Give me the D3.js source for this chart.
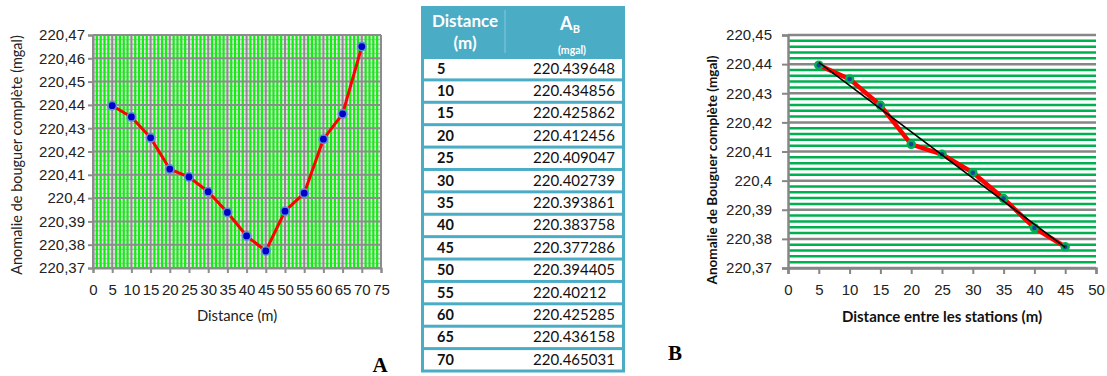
<!DOCTYPE html>
<html>
<head>
<meta charset="utf-8">
<script src="https://cdn.jsdelivr.net/npm/d3@7"></script>
<style>
  body { margin: 0; background: #fff; }
  svg { display: block; font-family: Lato, "Open Sans", sans-serif; }
</style>
</head>
<body>
<svg id="fig" width="1107" height="376"></svg>
<script>
// station distances (m) and complete Bouguer anomaly (mgal)
const distances = [5, 10, 15, 20, 25, 30, 35, 40, 45, 50, 55, 60, 65, 70];
const anomalies = [220.439648, 220.434856, 220.425862, 220.412456, 220.409047,
  220.402739, 220.393861, 220.383758, 220.377286, 220.394405, 220.40212,
  220.425285, 220.436158, 220.465031];
const anomalyText = ["220.439648", "220.434856", "220.425862", "220.412456", "220.409047",
  "220.402739", "220.393861", "220.383758", "220.377286", "220.394405", "220.40212",
  "220.425285", "220.436158", "220.465031"];
// panel B only uses the descending part of the profile
const nB = 9;

const fr = d3.formatLocale({ decimal: ",", thousands: " ", grouping: [3], currency: ["", ""] });
const fmt = fr.format(".2~f");

const svg = d3.select("#fig");
const pts = distances.map((d, i) => ({ x: d, y: anomalies[i] }));

// ---------------- Panel A ----------------
const xA = d3.scaleLinear().domain([0, 75]).range([93, 381]);
const yA = d3.scaleLinear().domain([220.37, 220.47]).range([268, 35]);

const gA = svg.append("g");
gA.append("rect")
  .attr("x", xA(0)).attr("y", yA(220.47))
  .attr("width", xA(75) - xA(0)).attr("height", yA(220.37) - yA(220.47))
  .attr("fill", "#e4e4e4");

// minor horizontal
gA.selectAll(".hmin").data(yA.ticks(50)).join("line")
  .attr("x1", xA(0)).attr("x2", xA(75))
  .attr("y1", d => yA(d)).attr("y2", d => yA(d))
  .attr("stroke", "#b0b0b0").attr("stroke-width", 1);
// minor vertical (green)
gA.selectAll(".vmin").data(xA.ticks(75).filter(d => d % 5 !== 0)).join("line")
  .attr("x1", d => xA(d)).attr("x2", d => xA(d))
  .attr("y1", yA(220.47)).attr("y2", yA(220.37))
  .attr("stroke", "#11ee11").attr("stroke-width", 2.2);
// major
gA.selectAll(".hmaj").data(yA.ticks(10)).join("line")
  .attr("x1", xA(0)).attr("x2", xA(75))
  .attr("y1", d => yA(d)).attr("y2", d => yA(d))
  .attr("stroke", "#8c8c8c").attr("stroke-width", 2);
gA.selectAll(".vmaj").data(xA.ticks(15)).join("line")
  .attr("x1", d => xA(d)).attr("x2", d => xA(d))
  .attr("y1", yA(220.47)).attr("y2", yA(220.37))
  .attr("stroke", "#8c8c8c").attr("stroke-width", 2);

const axA = gA.append("g").attr("transform", `translate(${xA(0)},0)`)
  .call(d3.axisLeft(yA).ticks(10).tickFormat(fmt).tickSize(5).tickPadding(3));
const axAx = gA.append("g").attr("transform", `translate(0,${yA(220.37)})`)
  .call(d3.axisBottom(xA).ticks(15).tickSize(5).tickPadding(11));
[axA, axAx].forEach(a => {
  a.select(".domain").attr("stroke", "#8c8c8c").attr("stroke-width", 2);
  a.selectAll(".tick line").attr("stroke", "#8c8c8c").attr("stroke-width", 2);
  a.selectAll("text").attr("font-size", 15).attr("fill", "#222");
});

gA.append("path").datum(pts)
  .attr("fill", "none").attr("stroke", "#ff0000").attr("stroke-width", 3)
  .attr("d", d3.line().x(d => xA(d.x)).y(d => yA(d.y)));
gA.selectAll(".mk").data(pts).join("circle")
  .attr("cx", d => xA(d.x)).attr("cy", d => yA(d.y)).attr("r", 4.2)
  .attr("fill", "#0000c8").attr("stroke", "#5b8fd6").attr("stroke-width", 1.6);

gA.append("text").attr("transform", "translate(22,155) rotate(-90)")
  .attr("text-anchor", "middle").attr("font-size", 14.5).attr("fill", "#222")
  .text("Anomalie de bouguer complète (mgal)");
gA.append("text").attr("x", 237).attr("y", 321)
  .attr("text-anchor", "middle").attr("font-size", 14.8).attr("fill", "#222")
  .text("Distance (m)");
gA.append("text").attr("x", 380).attr("y", 372)
  .attr("text-anchor", "middle").attr("font-size", 21).attr("font-weight", "bold")
  .attr("font-family", "Liberation Serif, serif").text("A");

// ---------------- Table ----------------
const tx0 = 421, tx1 = 625, colSep = 505;
const rowY = d3.scaleLinear().domain([0, distances.length]).range([57, 370.5]);
const gT = svg.append("g");
gT.append("rect").attr("x", tx0).attr("y", 6).attr("width", tx1 - tx0).attr("height", rowY(distances.length) + 2 - 6)
  .attr("fill", "#4bacc6");
gT.append("line").attr("x1", colSep).attr("x2", colSep).attr("y1", 10).attr("y2", 53)
  .attr("stroke", "#86c9db").attr("stroke-width", 1);
gT.append("text").attr("x", 465).attr("y", 27).attr("text-anchor", "middle")
  .attr("font-size", 17).attr("font-weight", "bold").attr("fill", "#fff").text("Distance");
gT.append("text").attr("x", 465).attr("y", 49).attr("text-anchor", "middle")
  .attr("font-size", 17).attr("font-weight", "bold").attr("fill", "#fff").text("(m)");
const ab = gT.append("text").attr("x", 570).attr("y", 30).attr("text-anchor", "middle")
  .attr("font-size", 18).attr("font-weight", "bold").attr("fill", "#fff");
ab.append("tspan").text("A");
ab.append("tspan").attr("font-size", 11).attr("dy", 3).text("B");
gT.append("text").attr("x", 572).attr("y", 54).attr("text-anchor", "middle")
  .attr("font-size", 10.5).attr("font-weight", "bold").attr("fill", "#fff").text("(mgal)");

const rows = gT.selectAll(".row").data(distances).join("g");
rows.append("rect")
  .attr("x", tx0 + 3).attr("width", tx1 - tx0 - 6)
  .attr("y", (d, i) => rowY(i) + 2).attr("height", (d, i) => rowY(i + 1) - rowY(i) - 3)
  .attr("fill", "#fff");
rows.append("text")
  .attr("x", 437).attr("y", (d, i) => (rowY(i) + rowY(i + 1)) / 2 + 5.5)
  .attr("font-size", 14.5).attr("font-weight", "bold").attr("fill", "#111").text(d => d);
rows.append("text")
  .attr("x", 533).attr("y", (d, i) => (rowY(i) + rowY(i + 1)) / 2 + 5.5)
  .attr("font-size", 15).attr("fill", "#111").text((d, i) => anomalyText[i]);

// ---------------- Panel B ----------------
const ptsB = pts.slice(0, nB);
const xB = d3.scaleLinear().domain([0, 50]).range([788, 1096]);
const yB = d3.scaleLinear().domain([220.37, 220.45]).range([268, 35]);
const gB = svg.append("g");

gB.selectAll(".hmin").data(yB.ticks(40).filter(d => Math.abs(d * 100 - Math.round(d * 100)) > 1e-6)).join("line")
  .attr("x1", xB(0)).attr("x2", xB(50))
  .attr("y1", d => yB(d)).attr("y2", d => yB(d))
  .attr("stroke", "#00b050").attr("stroke-width", 2.5);
gB.selectAll(".hmaj").data(yB.ticks(8)).join("line")
  .attr("x1", xB(0)).attr("x2", xB(50))
  .attr("y1", d => yB(d)).attr("y2", d => yB(d))
  .attr("stroke", "#868686").attr("stroke-width", 2.5);

const axB = gB.append("g").attr("transform", `translate(${xB(0)},0)`)
  .call(d3.axisLeft(yB).ticks(8).tickFormat(fmt).tickSize(6).tickPadding(10));
const axBx = gB.append("g").attr("transform", `translate(0,${yB(220.37)})`)
  .call(d3.axisBottom(xB).ticks(10).tickSize(6).tickPadding(10));
[axB, axBx].forEach(a => {
  a.select(".domain").attr("stroke", "#868686").attr("stroke-width", 2.5);
  a.selectAll(".tick line").attr("stroke", "#868686").attr("stroke-width", 2);
  a.selectAll("text").attr("font-size", 15).attr("fill", "#222");
});

// least-squares trend line over panel B points
const mx = d3.mean(ptsB, d => d.x), my = d3.mean(ptsB, d => d.y);
const slope = d3.sum(ptsB, d => (d.x - mx) * (d.y - my)) / d3.sum(ptsB, d => (d.x - mx) ** 2);
const trend = d3.extent(ptsB, d => d.x).map(x => ({ x, y: my + slope * (x - mx) }));

gB.append("path").datum(ptsB)
  .attr("fill", "none").attr("stroke", "#ff0000").attr("stroke-width", 4.5)
  .attr("d", d3.line().x(d => xB(d.x)).y(d => yB(d.y)));
gB.selectAll(".mk").data(ptsB).join("circle")
  .attr("cx", d => xB(d.x)).attr("cy", d => yB(d.y)).attr("r", 3.5)
  .attr("fill", "#1f3fa0").attr("stroke", "#00b050").attr("stroke-width", 2.5);
gB.append("path").datum(trend)
  .attr("fill", "none").attr("stroke", "#000").attr("stroke-width", 1.6)
  .attr("d", d3.line().x(d => xB(d.x)).y(d => yB(d.y)));

gB.append("text").attr("transform", "translate(717,170) rotate(-90)")
  .attr("text-anchor", "middle").attr("font-size", 13.6).attr("font-weight", "bold").attr("fill", "#111")
  .text("Anomalie de Bouguer complète (mgal)");
gB.append("text").attr("x", 942).attr("y", 322)
  .attr("text-anchor", "middle").attr("font-size", 15).attr("font-weight", "bold").attr("fill", "#111")
  .text("Distance entre les stations (m)");
gB.append("text").attr("x", 675).attr("y", 360)
  .attr("text-anchor", "middle").attr("font-size", 21).attr("font-weight", "bold")
  .attr("font-family", "Liberation Serif, serif").text("B");
</script>
</body>
</html>
